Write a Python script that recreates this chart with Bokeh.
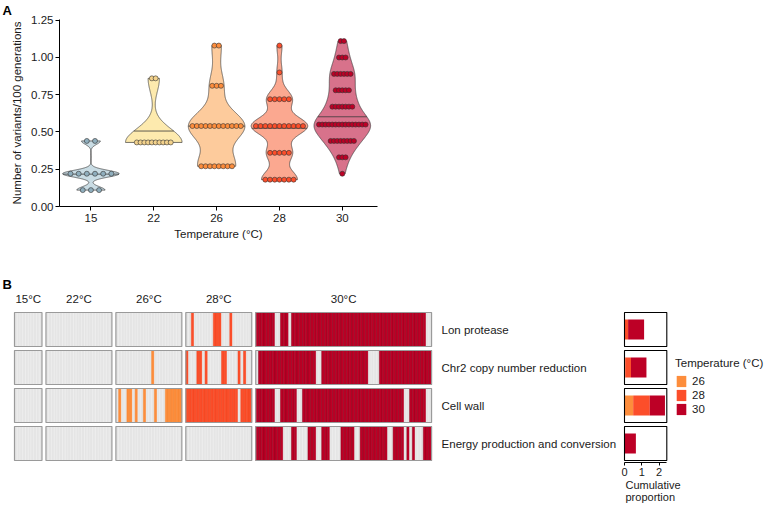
import numpy as np
from bokeh.plotting import figure
from bokeh.models import (Range1d, FixedTicker, PrintfTickFormatter, ColumnDataSource,
                          Legend, LegendItem, LinearAxis, Title)
from bokeh.layouts import column, row
from bokeh.embed import file_html
from bokeh.resources import INLINE
from bokeh.core.properties import value

FONT = "Liberation Sans"
TXT = "#1a1a1a"

# ---------------- Panel A data ----------------
temp_labels = ["15", "22", "26", "28", "30"]
levels_15 = [0.11, 0.22, 0.44]
counts_15 = [3, 6, 2]
levels_22 = [0.43, 0.86]
counts_22 = [10, 2]
levels_26 = [0.27, 0.54, 0.81, 1.08]
counts_26 = [8, 12, 3, 2]
levels_28 = [0.18, 0.36, 0.54, 0.72, 0.90, 1.08]
counts_28 = [7, 5, 11, 5, 1, 1]
levels_30 = [0.22, 0.33, 0.44, 0.55, 0.67, 0.78, 0.89, 1.00, 1.11]
counts_30 = [1, 3, 8, 15, 7, 5, 6, 3, 2]
y_ticks = [0.0, 0.25, 0.5, 0.75, 1.0, 1.25]

violin_fill = ["#C9DCE4", "#FDEAAE", "#FDCB9C", "#FBA890", "#D8728B"]
dot_fill = ["#8FAEBD", "#F3D28C", "#FD8D3C", "#FC4E2A", "#BD0026"]
dot_spacing = [0.13, 0.06, 0.07, 0.075, 0.053]

# ---------------- Panel B data ----------------
heat_temps = ["15°C", "22°C", "26°C", "28°C", "30°C"]
lines_per_temp = [10, 24, 24, 24, 64]
pathways = ["Lon protease", "Chr2 copy number reduction", "Cell wall",
            "Energy production and conversion"]
# lines carrying a variant (26 and 28 °C, 24 lines each)
hit_26 = [[], [13], [1, 4, 5, 7, 10, 14, 18, 19, 20, 21, 22, 23], []]
hit_28 = [[2, 10, 11, 12, 16],
          [0, 4, 5, 7, 13, 14, 19, 21],
          [0, 1, 2, 3, 4, 5, 6, 7, 8, 9, 10, 11, 12, 13, 14, 15, 16, 17, 18, 20, 21, 22, 23],
          []]
# lines WITHOUT a variant (30 °C, 64 lines)
miss_30 = [[7, 8, 12, 62, 63],
           [0, 22, 23, 41, 42, 43, 44],
           [7, 8, 15, 16, 54, 55, 62, 63],
           [10, 11, 12, 15, 16, 17, 18, 22, 23, 27, 28, 29, 30, 36, 37, 48, 49, 54, 56, 58, 59, 60]]
legend_temps = ["26", "28", "30"]
heat_colors = ["#FD8D3C", "#FC4E2A", "#BD0026"]
heat_lines = ["#F0832F", "#E8441F", "#86001B"]
grey_fill = "#E5E5E5"
bar_ticks = [0, 1, 2]


def bw_nrd0(x):
    x = np.asarray(x, float)
    hi = np.std(x, ddof=1)
    iqr = np.percentile(x, 75) - np.percentile(x, 25)
    lo = min(hi, iqr / 1.34)
    if lo == 0:
        lo = hi if hi > 0 else (abs(x[0]) if x[0] != 0 else 1.0)
    return 0.9 * lo * len(x) ** (-0.2)


W = 765
# ================= Panel A =================
hA = 270
fA_left, fA_right, fA_top, fA_bottom = 59, 377, 19, 206
pA = figure(width=W, height=hA, x_range=Range1d(0.5, 5.56), y_range=Range1d(0, 1.255),
            output_backend="svg", toolbar_location=None,
            min_border_left=fA_left, min_border_right=W - fA_right,
            min_border_top=fA_top, min_border_bottom=hA - fA_bottom)
pA.outline_line_color = None
pA.grid.visible = False
pA.title.text = "A"
pA.title.align = "left"
pA.title.offset = 2 - fA_left
pA.title.standoff = 0
pA.title.vertical_align = "top"
pA.title.text_font = FONT
pA.title.text_font_size = "13px"
pA.title.text_font_style = "bold"
pA.title.text_color = "black"

groups = [(levels_15, counts_15), (levels_22, counts_22), (levels_26, counts_26),
          (levels_28, counts_28), (levels_30, counts_30)]

vx, vy, vf = [], [], []
mx0, mx1, my = [], [], []
dx, dy, dc = [], [], []
for gi, (lev, cnt) in enumerate(groups):
    cat = gi + 1
    vals = np.repeat(np.array(lev, float), cnt)
    bw = bw_nrd0(vals)
    grid = np.linspace(vals.min(), vals.max(), 512)
    dens = np.exp(-0.5 * ((grid[:, None] - vals[None, :]) / bw) ** 2).sum(1) / (len(vals) * bw * np.sqrt(2 * np.pi))
    hw = 0.45 * dens / dens.max()
    vx.append(list(np.concatenate([cat - hw, (cat + hw)[::-1]])))
    vy.append(list(np.concatenate([grid, grid[::-1]])))
    vf.append(violin_fill[gi])
    cdf = np.cumsum(dens) / dens.sum()
    q = float(np.interp(0.5, cdf, grid))
    wq = float(np.interp(q, grid, hw))
    mx0.append(cat - wq); mx1.append(cat + wq); my.append(q)
    for lv, c in zip(lev, cnt):
        for k in range(c):
            dx.append(cat + (k - (c - 1) / 2) * dot_spacing[gi])
            dy.append(lv)
            dc.append(dot_fill[gi])

pA.patches(xs=vx, ys=vy, fill_color=vf, line_color="#3a3a3a", line_width=0.7)
pA.segment(x0=mx0, y0=my, x1=mx1, y1=my, line_color="#3a3a3a", line_width=0.8)
pA.scatter(x=dx, y=dy, size=5, fill_color=dc, line_color="#333333", line_width=0.6)

pA.xaxis.ticker = FixedTicker(ticks=[1, 2, 3, 4, 5])
pA.xaxis.major_label_overrides = {i + 1: t for i, t in enumerate(temp_labels)}
pA.yaxis.ticker = FixedTicker(ticks=y_ticks)
pA.yaxis.formatter = PrintfTickFormatter(format="%.2f")
pA.xaxis.axis_label = "Temperature (°C)"
pA.yaxis.axis_label = "Number of variants/100 generations"
for ax in [pA.xaxis[0], pA.yaxis[0]]:
    ax.axis_line_color = "black"
    ax.axis_line_width = 1
    ax.major_tick_line_color = "black"
    ax.major_tick_out = 4
    ax.major_tick_in = 0
    ax.minor_tick_line_color = None
    ax.major_label_text_font = FONT
    ax.major_label_text_font_size = "11.5px"
    ax.major_label_text_color = TXT
    ax.axis_label_text_font = FONT
    ax.axis_label_text_font_size = "11.5px"
    ax.axis_label_text_font_style = "normal"
    ax.axis_label_text_color = TXT
pA.xaxis.major_label_standoff = 3
pA.xaxis.axis_label_standoff = 3
pA.yaxis.major_label_standoff = 2
pA.yaxis.axis_label_standoff = 5

# ================= Panel B (heatmap + bars in one figure) =================
hB = 506 - hA
top_B = hA            # page y of this canvas top
frame_bottom = 462    # page y
u = 2.747             # px per line cell
pitch = 38.0          # px per row
row0 = 329.0          # page y of first row centre
x_heat0 = 14.0        # page x where heatmap starts
x_bar0 = 624.0        # page x of bar value 0
sx = 17.34            # px per bar unit
gap = 4.0 / u

pB = figure(width=W, height=hB,
            x_range=Range1d(-x_heat0 / u, (W - x_heat0) / u),
            y_range=Range1d((frame_bottom - row0) / pitch, (top_B - row0) / pitch),
            x_axis_location=None, y_axis_location=None,
            min_border_left=0, min_border_right=0, min_border_top=0,
            min_border_bottom=506 - frame_bottom,
            output_backend="svg", toolbar_location=None)
pB.outline_line_color = None
pB.grid.visible = False
pB.extra_x_ranges = {"bar": Range1d(-x_bar0 / sx, (W - x_bar0) / sx)}

starts = []
s = 0.0
for n in lines_per_temp:
    starts.append(s)
    s += n + gap

cx, cy, cf, cl = [], [], [], []
for r in range(len(pathways)):
    for ti, n in enumerate(lines_per_temp):
        for i in range(n):
            present = False
            col = line = None
            if ti == 2 and i in hit_26[r]:
                present, col, line = True, heat_colors[0], heat_lines[0]
            elif ti == 3 and i in hit_28[r]:
                present, col, line = True, heat_colors[1], heat_lines[1]
            elif ti == 4 and i not in miss_30[r]:
                present, col, line = True, heat_colors[2], heat_lines[2]
            cx.append(starts[ti] + i + 0.5)
            cy.append(r)
            cf.append(col if present else grey_fill)
            cl.append(line if present else "#EFEFEF")

cell_h = 34.0 / pitch
pB.rect(x=cx, y=cy, width=1, height=cell_h, fill_color=cf, line_color=cl, line_width=0.5)
bx, by, bw_ = [], [], []
for r in range(len(pathways)):
    for ti, n in enumerate(lines_per_temp):
        bx.append(starts[ti] + n / 2); by.append(r); bw_.append(n)
pB.rect(x=bx, y=by, width=bw_, height=cell_h, fill_color=None, line_color="#9A9A9A", line_width=1.2)
pB.text(x=[starts[i] + lines_per_temp[i] / 2 for i in range(5)], y=[(298 - row0) / pitch] * 5,
        text=heat_temps, text_align="center", text_baseline="middle",
        text_font=value(FONT), text_font_size="11.5px", text_color=TXT)
lab_x = starts[4] + lines_per_temp[4] + 10.0 / u
pB.text(x=[lab_x] * 4, y=list(range(4)), text=pathways, text_align="left", text_baseline="middle",
        text_font=value(FONT), text_font_size="11.5px", text_color=TXT)
pB.text(x=[(2 - x_heat0) / u], y=[(284 - row0) / pitch], text=["B"], text_align="left",
        text_baseline="middle", text_font=value(FONT), text_font_size="13px",
        text_font_style="bold", text_color="black")

# bars: cumulative proportion of lines with a variant
p26 = [len(h) / lines_per_temp[2] for h in hit_26]
p28 = [len(h) / lines_per_temp[3] for h in hit_28]
p30 = [(lines_per_temp[4] - len(m)) / lines_per_temp[4] for m in miss_30]
src = ColumnDataSource(dict(row=list(range(4)), p26=p26, p28=p28, p30=p30))

box_r = 42.3 / sx
tops = [r - cell_h / 2 for r in range(4)]
bots = [r + cell_h / 2 for r in range(4)]
pB.quad(left=[0] * 4, right=[box_r] * 4, top=tops, bottom=bots, fill_color="white",
        line_color=None, x_range_name="bar")
rs = pB.hbar_stack(["p26", "p28", "p30"], y="row", height=20 / pitch, color=heat_colors,
                   line_color=None, source=src, x_range_name="bar")
pB.quad(left=[0] * 4, right=[box_r] * 4, top=tops, bottom=bots, fill_color=None,
        line_color="black", line_width=1.1, x_range_name="bar")

bax = LinearAxis(x_range_name="bar", bounds=(0, box_r), ticker=FixedTicker(ticks=bar_ticks))
bax.axis_line_color = "black"
bax.major_tick_line_color = "black"
bax.major_tick_out = 3
bax.major_tick_in = 0
bax.minor_tick_line_color = None
bax.major_label_standoff = 2
bax.major_label_text_font = FONT
bax.major_label_text_font_size = "11px"
bax.major_label_text_color = TXT
pB.add_layout(bax, "below")

xlab = Title(text="Cumulative\nproportion", align="left", offset=625, standoff=0,
             vertical_align="top", text_font=FONT, text_font_size="11px",
             text_font_style="normal", text_color=TXT, text_line_height=1.0)
pB.add_layout(xlab, "below")

# legend location is its bottom-left corner, measured from the frame's bottom-left
legend = Legend(items=[LegendItem(label=t, renderers=[r]) for t, r in zip(legend_temps, rs)],
                location=(675, frame_bottom - 416), title="Temperature (°C)")
legend.title_text_font = FONT
legend.title_text_font_size = "11.5px"
legend.title_text_font_style = "normal"
legend.title_text_color = TXT
legend.title_standoff = 5
legend.label_text_font = FONT
legend.label_text_font_size = "11.5px"
legend.label_text_color = TXT
legend.glyph_width = 12
legend.glyph_height = 14
legend.label_height = 14
legend.label_standoff = 5
legend.spacing = 0
legend.padding = 0
legend.margin = 0
legend.border_line_color = None
legend.background_fill_alpha = 0
pB.add_layout(legend)

layout = column(pA, row(pB))
open("out.html", "w").write(file_html(layout, INLINE))
